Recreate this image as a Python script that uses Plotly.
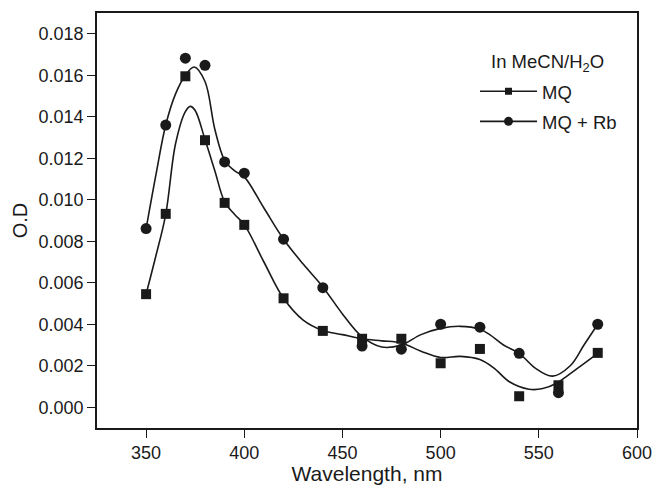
import plotly.graph_objects as go

# Measured absorbance (O.D) at each wavelength
wavelength = [350, 360, 370, 380, 390, 400, 420, 440, 460, 480, 500, 520, 540, 560, 580]
od_mq = [0.00545, 0.00932, 0.01595, 0.01287, 0.00985, 0.00879, 0.00525, 0.00368,
         0.00330, 0.00330, 0.00212, 0.00281, 0.00053, 0.00106, 0.00262]
od_mq_rb = [0.00861, 0.01360, 0.01682, 0.01648, 0.01182, 0.01128, 0.00810, 0.00576,
            0.00295, 0.00280, 0.00400, 0.00386, 0.00260, 0.00070, 0.00400]

# Smoothed fit curves (knots of the fitted spectra)
fit_x_mq = [350, 355, 360, 365, 370, 372.5, 375, 380, 385, 390, 395, 400, 410, 420, 430,
            440, 450, 460, 470, 480, 490, 500, 510, 520, 527, 535, 545, 552, 559, 570, 580]
fit_y_mq = [0.00545, 0.0073, 0.0093, 0.0127, 0.01425, 0.0145, 0.0143, 0.0129, 0.0114,
            0.0099, 0.0093, 0.0088, 0.0070, 0.00525, 0.0042, 0.0037, 0.0035, 0.0033,
            0.0032, 0.0031, 0.0027, 0.0024, 0.00245, 0.0023, 0.0019, 0.00123, 0.00087,
            0.0009, 0.00116, 0.0019, 0.0026]
fit_x_rb = [350, 355, 360, 365, 370, 374.5, 380, 385, 390, 395, 400, 410, 420, 430, 440,
            450, 460, 470, 480, 490, 500, 510, 520, 525, 532, 540, 548, 557, 566, 573, 580]
fit_y_rb = [0.0086, 0.0112, 0.0136, 0.0151, 0.0160, 0.0164, 0.0157, 0.0134, 0.0119,
            0.0114, 0.0111, 0.0096, 0.0081, 0.0069, 0.0058, 0.0045, 0.0034, 0.0029,
            0.0030, 0.0035, 0.0038, 0.0039, 0.00376, 0.0035, 0.0030, 0.0026, 0.0019,
            0.0015, 0.0020, 0.0030, 0.0040]

x_ticks = [350, 400, 450, 500, 550, 600]
y_ticks = [0.000, 0.002, 0.004, 0.006, 0.008, 0.010, 0.012, 0.014, 0.016, 0.018]

FONT = "Liberation Sans, Arial, sans-serif"
INK = "#1a1a1a"

fig = go.Figure()

# fitted curves
fig.add_trace(go.Scatter(x=fit_x_mq, y=fit_y_mq, mode="lines", line_shape="spline",
                         line=dict(color=INK, width=1.6), showlegend=False, hoverinfo="skip"))
fig.add_trace(go.Scatter(x=fit_x_rb, y=fit_y_rb, mode="lines", line_shape="spline",
                         line=dict(color=INK, width=1.6), showlegend=False, hoverinfo="skip"))

# measured points
fig.add_trace(go.Scatter(x=wavelength, y=od_mq, mode="markers", name="MQ",
                         marker=dict(symbol="square", size=10, color=INK), showlegend=False))
fig.add_trace(go.Scatter(x=wavelength, y=od_mq_rb, mode="markers", name="MQ + Rb",
                         marker=dict(symbol="circle", size=11, color=INK), showlegend=False))

# legend entries (line + marker)
fig.add_trace(go.Scatter(x=[None], y=[None], mode="lines+markers", name="MQ",
                         legendgroup="a",
                         line=dict(color=INK, width=1.6),
                         marker=dict(symbol="square", size=7, color=INK)))
fig.add_trace(go.Scatter(x=[None], y=[None], mode="lines+markers", name="MQ + Rb",
                         legendgroup="b",
                         line=dict(color=INK, width=1.6),
                         marker=dict(symbol="circle", size=9, color=INK)))

axis_common = dict(
    showline=True, linecolor=INK, linewidth=1.6, mirror=True,
    ticks="outside", ticklen=8, tickwidth=1.4, tickcolor=INK,
    showgrid=False, zeroline=False, automargin=False,
    tickfont=dict(family=FONT, size=18, color=INK),
)

fig.update_layout(
    width=656, height=485,
    margin=dict(l=97, r=19, t=13, b=57),
    paper_bgcolor="white", plot_bgcolor="white",
    font=dict(family=FONT, color=INK),
    xaxis=dict(range=[325, 600], tickvals=x_ticks, ticktext=[str(v) for v in x_ticks],
               title=dict(text="Wavelength, nm", font=dict(family=FONT, size=21, color=INK),
                          standoff=12),
               **axis_common),
    yaxis=dict(range=[-0.001, 0.019], tickvals=y_ticks,
               ticktext=[f"{v:.3f}" for v in y_ticks],
               title=dict(text="O.D", font=dict(family=FONT, size=20, color=INK),
                          standoff=6),
               **axis_common),
    legend=dict(
        x=0.70, y=0.856, xanchor="left", yanchor="top",
        bgcolor="rgba(0,0,0,0)", borderwidth=0,
        itemwidth=57, tracegroupgap=3,
        font=dict(family=FONT, size=18.5, color=INK),
    ),
    annotations=[dict(
        text="In MeCN/H<sub>2</sub>O", xref="paper", yref="paper",
        x=0.835, y=0.8795, xanchor="center", yanchor="middle", showarrow=False,
        font=dict(family=FONT, size=18.5, color=INK),
    )],
)

fig.write_html("out.html")
